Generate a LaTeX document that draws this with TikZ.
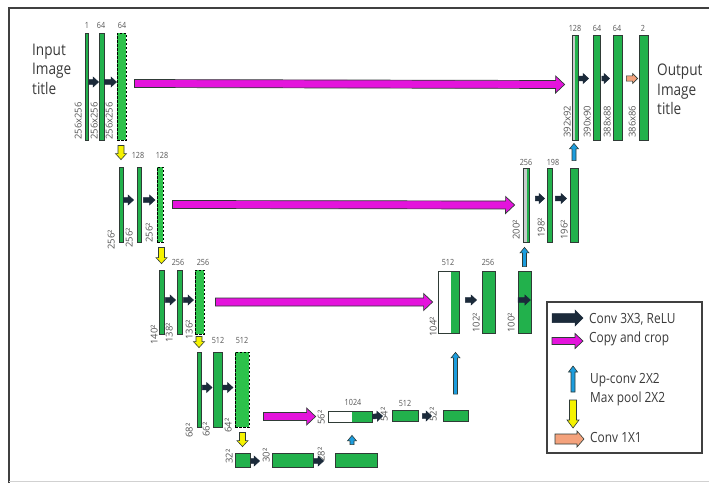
\documentclass[tikz,border=0pt]{standalone}
\usepackage{fontspec}
\setmainfont{Open Sans}[FakeStretch=0.85]
\newfontfamily\dimfont{Open Sans}
\usetikzlibrary{calc}
\definecolor{gfill}{HTML}{22B14C}
\definecolor{gdash}{HTML}{2DC24B}
\definecolor{edge}{HTML}{2F3B36}
\definecolor{navy}{HTML}{1B2A3A}
\definecolor{mag}{HTML}{E414DC}
\definecolor{bluea}{HTML}{1C9DDE}
\definecolor{yel}{HTML}{F5F200}
\definecolor{ora}{HTML}{F4A27C}
\definecolor{graybar}{HTML}{C8CCCC}
\definecolor{lbl}{HTML}{555555}
\definecolor{tcol}{HTML}{3A3A3A}
\definecolor{frame}{HTML}{404040}
\tikzset{
  bar/.style={draw=edge, line width=0.8pt, fill=gfill, inner sep=0pt, rectangle},
  dbar/.style={bar, fill=gdash, draw=black, dash pattern=on 2.5pt off 1.5pt, line width=1pt},
  greenright/.style={path picture={\fill[gfill] ([xshift=-#1]path picture bounding box.south east) rectangle (path picture bounding box.north east);}},
  convst/.style={fill=navy, draw=navy, line width=0.5pt},
  copyst/.style={fill=mag, draw=edge, line width=0.7pt},
  upst/.style={fill=bluea, draw=edge, line width=0.6pt},
  poolst/.style={fill=yel, draw=edge, line width=0.6pt},
  onest/.style={fill=ora, draw=edge, line width=0.6pt},
  chan/.style={font=\fontsize{8.5}{9}\selectfont, text=lbl, inner sep=0pt, anchor=base},
  dimlbl/.style={font=\dimfont\fontsize{9.5}{10}\selectfont, text=lbl, inner sep=0pt, rotate=90, anchor=south west},
  ttl/.style={font=\fontsize{16}{18}\selectfont, text=tcol, inner sep=0pt, anchor=base west},
  leg/.style={font=\fontsize{14}{16}\selectfont, text=tcol, inner sep=0pt, anchor=base west},
}
\newcommand\mkbar[6]{\node[#6, minimum width={(#3-#2)*1pt}, minimum height={(#5-#4)*1pt}] (#1) at ({(#2+#3)/2},{(#4+#5)/2}) {};}
% block arrow: style, from, to, shaft half width, head half width, head length
\newcommand\blockarrow[6]{%
  \path (#2) coordinate (ba-s) (#3) coordinate (ba-e);
  \path ($(ba-e)!#6!(ba-s)$) coordinate (ba-h);
  \filldraw[#1, line join=miter] ($(ba-s)!#4!90:(ba-e)$) -- ($(ba-h)!#4!-90:(ba-s)$) -- ($(ba-h)!#5!-90:(ba-s)$) -- (ba-e) -- ($(ba-h)!#5!90:(ba-s)$) -- ($(ba-h)!#4!90:(ba-s)$) -- ($(ba-s)!#4!-90:(ba-e)$) -- cycle;}
\newcommand\conv[2]{\blockarrow{convst}{#1}{#2}{2.4pt}{5pt}{5.5pt}}
\newcommand\copyarr[2]{\blockarrow{copyst}{#1}{#2}{4pt}{8.5pt}{9pt}}
\newcommand\upconv[2]{\blockarrow{upst}{#1}{#2}{2pt}{4.5pt}{5.5pt}}
\newcommand\maxpool[2]{\blockarrow{poolst}{#1}{#2}{3pt}{5.5pt}{6pt}}
\begin{document}
\begin{tikzpicture}[x=1pt, y=-1pt]
\useasboundingbox (0,0) rectangle (709,483);
\fill[white] (0,0) rectangle (709,483);
% frame
\draw[line width=1.3pt, frame] (9,483) -- (9,8) -- (709,8);
\draw[line width=1pt, black!18] (9,481) -- (709,481);

% titles
\node[ttl] (in1) at (32,55) {Input};
\node[ttl] (in2) at (32,74) {Image};
\node[ttl] (in3) at (32,94) {title};
\node[ttl] (out1) at (657,75) {Output};
\node[ttl] (out2) at (657,95) {Image};
\node[ttl] (out3) at (657,114) {title};

% row 1
\mkbar{a1}{85}{88.5}{33}{140}{bar}
\mkbar{a2}{99}{104}{33}{140}{bar}
\mkbar{a3}{117}{126}{33}{140}{dbar}
\mkbar{b1}{572}{578}{35}{140}{bar, fill=graybar, greenright=3pt}
\mkbar{b2}{593}{600}{35}{140}{bar}
\mkbar{b3}{613}{622}{35}{140}{bar}
\mkbar{b4}{639}{648}{35}{140}{bar}
% row 2
\mkbar{c1}{119}{123}{167}{242}{bar}
\mkbar{c2}{137}{141}{167}{242}{bar}
\mkbar{c3}{157}{163}{167}{242}{dbar}
\mkbar{d1}{523}{529}{168}{242}{bar, fill=graybar, greenright=2pt}
\mkbar{d2}{547}{552}{168}{242}{bar}
\mkbar{d3}{570}{578}{168}{242}{bar}
% row 3
\mkbar{e1}{159}{164}{270}{334}{bar}
\mkbar{e2}{177}{182}{270}{334}{bar}
\mkbar{e3}{195}{204}{270}{334}{dbar}
\mkbar{f1}{438}{459}{271}{333}{bar, fill=white, greenright=8pt}
\mkbar{f2}{482}{495}{271}{333}{bar}
\mkbar{f3}{518}{531}{271}{333}{bar}
% row 4
\mkbar{g1}{197}{201}{352}{427}{bar}
\mkbar{g2}{213}{222}{352}{427}{bar}
\mkbar{g3}{235}{249}{352}{427}{dbar}
\mkbar{h1}{328}{372}{411}{422}{bar, fill=white, greenright=20pt}
\mkbar{h2}{392}{418}{410.5}{421.5}{bar}
\mkbar{h3}{443}{468}{410.5}{421.5}{bar}
% row 5
\mkbar{i1}{235}{250}{453}{467}{bar}
\mkbar{i2}{272}{313}{453}{467}{bar}
\mkbar{i3}{335}{377}{453}{467}{bar}

% channel labels
\node[chan] (ca1) at (87,28) {1};
\node[chan] (ca2) at (101,28) {64};
\node[chan] (ca3) at (122,28) {64};
\node[chan] (cb1) at (575,31) {128};
\node[chan] (cb2) at (597,31) {64};
\node[chan] (cb3) at (617,31) {64};
\node[chan] (cb4) at (643,31) {2};
\node[chan] (cc2) at (138,158) {128};
\node[chan] (cc3) at (162,158) {128};
\node[chan] (cd1) at (526,165) {256};
\node[chan] (cd2) at (553,165) {198};
\node[chan] (ce2) at (178,265) {256};
\node[chan] (ce3) at (203,265) {256};
\node[chan] (cf1) at (448,265) {512};
\node[chan] (cf2) at (488,265) {256};
\node[chan] (cg2) at (218,343) {512};
\node[chan] (cg3) at (242,343) {512};
\node[chan] (ch1) at (353,405) {1024};
\node[chan] (ch2) at (405,406) {512};

% size labels
\node[dimlbl] (la1) at (82,140) {256x256};
\node[dimlbl] (la2) at (98,140) {256x256};
\node[dimlbl] (la3) at (113,140) {256x256};
\node[dimlbl] (lb1) at (571,138) {392x92};
\node[dimlbl] (lb2) at (591,138) {390x90};
\node[dimlbl] (lb3) at (611,138) {388x88};
\node[dimlbl] (lb4) at (636,138) {386x86};
\node[dimlbl] (lc1) at (115,250) {256²};
\node[dimlbl] (lc2) at (133,248) {256²};
\node[dimlbl] (lc3) at (153,243) {256²};
\node[dimlbl] (ld1) at (520,240) {200²};
\node[dimlbl] (ld2) at (545,238) {198²};
\node[dimlbl] (ld3) at (568,240) {196²};
\node[dimlbl] (le1) at (158,345) {140²};
\node[dimlbl] (le2) at (173,343) {138²};
\node[dimlbl] (le3) at (193,340) {136²};
\node[dimlbl] (lf1) at (437,337) {104²};
\node[dimlbl] (lf2) at (480,333) {102²};
\node[dimlbl] (lf3) at (515,333) {100²};
\node[dimlbl] (lg1) at (193,438) {68²};
\node[dimlbl] (lg2) at (210,437) {66²};
\node[dimlbl] (lg3) at (232,433) {64²};
\node[dimlbl] (lh1) at (325,425) {56²};
\node[dimlbl] (lh2) at (388,422) {54²};
\node[dimlbl] (lh3) at (437,422) {52²};
\node[dimlbl] (li1) at (233,464) {32²};
\node[dimlbl] (li2) at (270,463) {30²};
\node[dimlbl] (li3) at (325,462) {28²};

% conv arrows
\conv{[yshift=4.5pt]a1.east}{[yshift=4.5pt]a2.west}
\conv{[yshift=4.5pt]a2.east}{[yshift=4.5pt]a3.west}
\conv{$([yshift=9pt]b1.east)+(0.5pt,0)$}{$([yshift=9pt]b2.west)+(-4pt,0)$}
\conv{$([yshift=9pt]b2.east)+(1.5pt,0)$}{$([yshift=9pt]b3.west)+(-3pt,0)$}
\blockarrow{onest}{$([yshift=9pt]b3.east)+(4pt,0)$}{$([yshift=9pt]b4.west)+(-1pt,0)$}{2.6pt}{5pt}{5pt}
\conv{[yshift=4.5pt]c1.east}{$([yshift=4.5pt]c2.west)+(-3pt,0)$}
\conv{$([yshift=4.5pt]c2.east)+(2pt,0)$}{$([yshift=4.5pt]c3.west)+(-1.5pt,0)$}
\conv{$([yshift=6.5pt]d1.east)+(6pt,0)$}{$([yshift=6.5pt]d2.west)+(-2pt,0)$}
\conv{$([yshift=6.5pt]d2.east)+(3pt,0)$}{$([yshift=6.5pt]d3.west)+(-3pt,0)$}
\conv{$([yshift=2pt]e1.east)+(1pt,0)$}{$([yshift=2pt]e2.west)+(-1pt,0)$}
\conv{$([yshift=2pt]e2.east)+(1pt,0)$}{$([yshift=2pt]e3.west)+(-1pt,0)$}
\conv{$([yshift=2pt]f1.east)+(6pt,0)$}{$([yshift=2pt]f2.west)+(-5pt,0)$}
\conv{$([yshift=2pt]f3.west)+(0.5pt,0)$}{$([yshift=2pt]f3.east)+(-1pt,0)$}
\conv{$([yshift=2pt]g1.east)+(1pt,0)$}{$([yshift=2pt]g2.west)+(-0.5pt,0)$}
\conv{$([yshift=2pt]g2.east)+(0.5pt,0)$}{$([yshift=2pt]g3.west)+(-1.5pt,0)$}
\conv{h1.east}{$(h2.west)+(-9pt,0)$}
\conv{$(h2.east)+(4pt,0)$}{$(h3.west)+(-11pt,0)$}
\conv{$([yshift=-1pt]i1.east)+(0.5pt,0)$}{$([yshift=-1pt]i2.west)+(-12pt,0)$}
\conv{$([yshift=-1pt]i2.east)+(0.5pt,0)$}{$([yshift=-1pt]i3.west)+(-11pt,0)$}

% copy and crop
\copyarr{$(a3.east)+(8pt,3pt)$}{$(b1.west)+(-7pt,3pt)$}
\copyarr{$(c3.east)+(9pt,0)$}{$(d1.west)+(-8pt,0)$}
\copyarr{$(e3.east)+(11pt,0)$}{$(f1.west)+(-5pt,0)$}
\copyarr{$(g3.east |- h1.west)+(14pt,0)$}{$(h1.west)+(-12pt,0)$}

% up-conv
\upconv{$(h1.south |- i3.north)+(2pt,8pt)$}{$(h1.south)+(2pt,-13pt)$}
\upconv{$(h3.north)+(0,16pt)$}{$(h3.north |- f1.south)+(0,-19pt)$}
\upconv{$(f3.north)+(0,4pt)$}{$(f3.north |- d1.south)+(0,-5pt)$}
\upconv{$(d3.north)+(0,7pt)$}{$(d3.north |- b1.south)+(0,-3pt)$}

% max pool
\maxpool{$(c1.north |- a3.south)+(0,-5pt)$}{$(c1.north)+(0,7pt)$}
\maxpool{$(e1.north |- c3.south)+(0,-5pt)$}{$(e1.north)+(0,6pt)$}
\maxpool{$(g1.north |- e3.south)+(0,-2pt)$}{$(g1.north)+(0,4pt)$}
\maxpool{$(i1.north |- g3.south)+(0,-5pt)$}{$(i1.north)+(0,6pt)$}

% legend
\node[draw=frame, line width=1.3pt, minimum width=155pt, minimum height=151pt, inner sep=0pt] (legend) at (624.5,377.5) {};
\coordinate (lc1s) at (552,318); \coordinate (lc1e) at (583,318);
\coordinate (lc2s) at (552,341); \coordinate (lc2e) at (583,341);
\coordinate (lc3s) at (573,392); \coordinate (lc3e) at (573,366);
\coordinate (lc4s) at (573,400); \coordinate (lc4e) at (573,428);
\coordinate (lc5s) at (555,439); \coordinate (lc5e) at (584,439);
\blockarrow{convst}{lc1s}{lc1e}{4.5pt}{8pt}{8pt}
\blockarrow{copyst}{lc2s}{lc2e}{3.5pt}{7.5pt}{8pt}
\blockarrow{upst}{lc3s}{lc3e}{2pt}{4.5pt}{6pt}
\blockarrow{poolst}{lc4s}{lc4e}{3.5pt}{6pt}{8pt}
\blockarrow{onest}{lc5s}{lc5e}{5pt}{8pt}{7pt}
\node[leg] (lt1) at (589,323) {Conv 3X3, ReLU};
\node[leg] (lt2) at (589,342) {Copy and crop};
\node[leg] (lt3) at (590,383) {Up-conv 2X2};
\node[leg] (lt4) at (590,402) {Max pool 2X2};
\node[leg] (lt5) at (590,442) {Conv 1X1};
\end{tikzpicture}
\end{document}
